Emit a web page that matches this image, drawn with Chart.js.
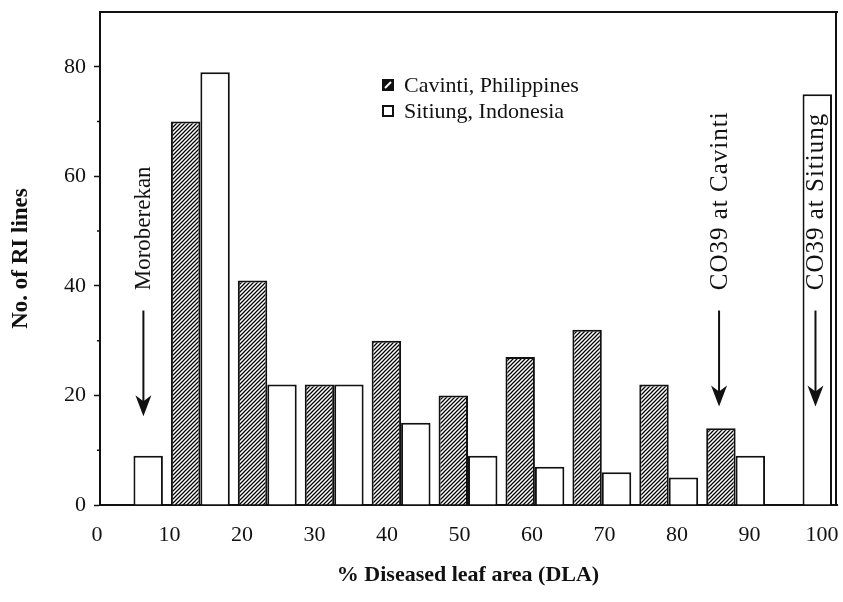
<!DOCTYPE html>
<html>
<head>
<meta charset="utf-8">
<script src="https://cdn.jsdelivr.net/npm/chart.js@4.4.1/dist/chart.umd.min.js"></script>
<style>
  html, body { margin: 0; padding: 0; background: #fff; }
  #wrap { width: 843px; height: 602px; }
</style>
</head>
<body>
<div id="wrap"><canvas id="c" width="843" height="602"></canvas></div>
<script>
// DLA classes (one pair of bars per class)
const dlaClasses = ['0-9', '10-18', '19-27', '28-36', '37-45', '46-54', '55-63', '64-72', '73-81', '82-90', '91-100'];
// Number of RI lines per class at each site
const cavinti = [0, 70, 41, 22, 30, 20, 27, 32, 22, 14, 0];
const sitiung = [9, 79, 22, 22, 15, 9, 7, 6, 5, 9, 75];
const seriesNames = ['Cavinti, Philippines', 'Sitiung, Indonesia'];
// Axis ticks
const xTickValues = [0, 10, 20, 30, 40, 50, 60, 70, 80, 90, 100];
const yTickValues = [0, 20, 40, 60, 80];
const yMinorTicks = [10, 30, 50, 70];
// Reference cultivars marked with arrows (x in % DLA, y in number of lines)
const noteLabels = ['Moroberekan', 'CO39 at Cavinti', 'CO39 at Sitiung'];
const noteX = [6.4, 85.8, 99.1];
const noteFontSize = [23, 25, 25];
const noteSpacing = [0, 1, 1];
const noteTextStart = [39.2, 39.2, 39.2];
const noteArrowFrom = [35.5, 35.5, 35.5];
const noteArrowTo = [16.2, 18.0, 18.0];

const SERIF = '"Liberation Serif", "Times New Roman", serif';
const INK = '#111';

const canvas = document.getElementById('c');
const ctx = canvas.getContext('2d');

// Diagonal hatching for the Cavinti bars
function makeHatch() {
  const s = 4;
  const t = document.createElement('canvas');
  t.width = s; t.height = s;
  const g = t.getContext('2d');
  g.fillStyle = '#fff';
  g.fillRect(0, 0, s, s);
  g.strokeStyle = '#000';
  g.lineWidth = 1.25;
  g.beginPath();
  g.moveTo(-1, s + 1); g.lineTo(s + 1, -1);
  g.moveTo(-1, 1); g.lineTo(1, -1);
  g.moveTo(s - 1, s + 1); g.lineTo(s + 1, s - 1);
  g.stroke();
  return ctx.createPattern(t, 'repeat');
}
const hatch = makeHatch();

// Frame, minor ticks, arrows with captions and the legend box
const decorations = {
  id: 'decorations',
  afterDraw(chart) {
    const { ctx: c, chartArea: a, scales } = chart;
    const xs = scales.x2, ys = scales.y;
    c.save();
    c.strokeStyle = INK;
    c.fillStyle = INK;
    // top and right frame
    c.lineWidth = 2;
    c.beginPath();
    c.moveTo(a.left, a.top);
    c.lineTo(a.right + 2, a.top);
    c.moveTo(a.right, a.top);
    c.lineTo(a.right, a.bottom);
    c.moveTo(a.right, a.bottom);
    c.lineTo(a.right + 2, a.bottom);
    c.stroke();
    // minor y ticks
    c.lineWidth = 1.5;
    c.beginPath();
    yMinorTicks.forEach(v => {
      const py = ys.getPixelForValue(v);
      c.moveTo(a.left - 3, py);
      c.lineTo(a.left, py);
    });
    c.stroke();
    // arrows and rotated captions
    noteLabels.forEach((txt, i) => {
      const px = xs.getPixelForValue(noteX[i]);
      const yStart = ys.getPixelForValue(noteTextStart[i]);
      c.save();
      c.font = noteFontSize[i] + 'px ' + SERIF;
      if ('letterSpacing' in c) c.letterSpacing = noteSpacing[i] + 'px';
      c.translate(px, yStart);
      c.rotate(-Math.PI / 2);
      c.textAlign = 'left';
      c.textBaseline = 'middle';
      c.fillText(txt, 0, 1);
      c.restore();
      const y0 = ys.getPixelForValue(noteArrowFrom[i]);
      const y1 = ys.getPixelForValue(noteArrowTo[i]);
      c.lineWidth = 2;
      c.beginPath();
      c.moveTo(px, y0);
      c.lineTo(px, y1 - 10);
      c.stroke();
      c.beginPath();
      c.moveTo(px, y1);
      c.lineTo(px - 8, y1 - 21);
      c.lineTo(px, y1 - 15);
      c.lineTo(px + 8, y1 - 21);
      c.closePath();
      c.fill();
    });
    // legend
    const lx = 382, rows = [85, 111], box = 12;
    c.font = '22px ' + SERIF;
    c.textAlign = 'left';
    c.textBaseline = 'middle';
    chart.data.datasets.forEach((ds, i) => {
      const ry = rows[i];
      if (i === 0) {
        c.fillStyle = INK;
        c.fillRect(lx, ry - box / 2, box, box);
        c.strokeStyle = '#fff';
        c.lineWidth = 2;
        c.beginPath();
        c.moveTo(lx + 3, ry + box / 2 - 3);
        c.lineTo(lx + box - 3, ry - box / 2 + 3);
        c.stroke();
      } else {
        c.strokeStyle = INK;
        c.lineWidth = 2;
        c.strokeRect(lx + 1, ry - box / 2 + 1, box - 2, box - 2);
      }
      c.fillStyle = INK;
      c.fillText(ds.label, lx + 22, ry + 1);
    });
    c.restore();
  }
};

new Chart(ctx, {
  type: 'bar',
  data: {
    labels: dlaClasses,
    datasets: [
      {
        label: seriesNames[0],
        data: cavinti,
        backgroundColor: hatch,
        borderColor: INK,
        borderWidth: 2,
        xAxisID: 'x'
      },
      {
        label: seriesNames[1],
        data: sitiung,
        backgroundColor: '#fff',
        borderColor: INK,
        borderWidth: 2,
        xAxisID: 'x'
      }
    ]
  },
  options: {
    responsive: false,
    animation: false,
    devicePixelRatio: 1,
    categoryPercentage: 0.88,
    barPercentage: 1.0,
    layout: { padding: { top: 12, right: 7, bottom: 0, left: 0 } },
    plugins: {
      legend: { display: false },
      tooltip: { enabled: false }
    },
    scales: {
      x: {
        type: 'category',
        display: false,
        offset: true
      },
      x2: {
        type: 'linear',
        position: 'bottom',
        offset: false,
        min: 0.414,
        max: 101.93,
        afterBuildTicks: s => { s.ticks = xTickValues.map(v => ({ value: v })); },
        afterFit: s => { s.height = 97; s.paddingLeft = 0; s.paddingRight = 0; },
        grid: { display: false, drawTicks: false, offset: false },
        border: { display: true, color: INK, width: 2 },
        ticks: {
          autoSkip: false,
          maxRotation: 0,
          padding: 17,
          color: INK,
          font: { family: SERIF, size: 22 }
        },
        title: {
          display: true,
          text: '% Diseased leaf area (DLA)',
          color: INK,
          font: { family: SERIF, size: 22, weight: 'bold' },
          padding: { top: 0, bottom: 13 }
        }
      },
      y: {
        min: 0,
        max: 90,
        afterBuildTicks: s => { s.ticks = yTickValues.map(v => ({ value: v })); },
        afterFit: s => { s.width = 100; s.paddingTop = 0; s.paddingBottom = 0; },
        grid: { drawOnChartArea: false, drawTicks: true, tickLength: 6, tickWidth: 1.5, tickColor: INK },
        border: { display: true, color: INK, width: 2 },
        ticks: {
          padding: 8,
          color: INK,
          font: { family: SERIF, size: 22 }
        },
        title: {
          display: true,
          text: 'No. of RI lines',
          color: INK,
          font: { family: SERIF, size: 23, weight: 'bold' },
          padding: { top: 7, bottom: 0 }
        }
      }
    }
  },
  plugins: [decorations]
});
</script>
</body>
</html>
